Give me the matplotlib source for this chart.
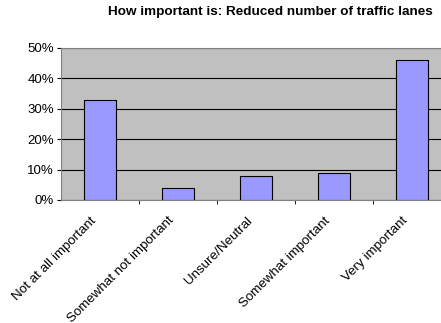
import matplotlib
matplotlib.use('Agg')
from matplotlib import pyplot as plt
from matplotlib.ticker import PercentFormatter, FixedLocator
from matplotlib.transforms import ScaledTranslation

# --- DATA ---
categories = ['Not at all important', 'Somewhat not important', 'Unsure/Neutral',
              'Somewhat important', 'Very important']
shares = [0.33, 0.04, 0.08, 0.09, 0.46]
y_ticks = [0, 0.1, 0.2, 0.3, 0.4, 0.5]

plt.rcParams['font.family'] = ['Liberation Sans', 'DejaVu Sans']

fig = plt.figure(figsize=(4.41, 3.23), dpi=100)
# plot area runs past the right edge of the picture, as in the original
ax = fig.add_axes([61 / 441, 1 - 200 / 323, 390 / 441, 152 / 323])

x = list(range(len(categories)))
ax.set_facecolor('#C0C0C0')
ax.bar(x, shares, width=0.41, color='#9999FF', edgecolor='black', linewidth=0.8, zorder=3)

ax.set_xlim(-0.5, len(categories) - 0.5)
ax.set_ylim(0, 0.5)
ax.set_yticks(y_ticks)
ax.yaxis.set_major_formatter(PercentFormatter(1.0, decimals=0))
ax.grid(axis='y', color='black', linewidth=0.8, zorder=1)

# category labels at centres, tick marks at boundaries
ax.set_xticks(x)
ax.set_xticklabels(categories, rotation=45, ha='right', rotation_mode='anchor', fontsize=9.6)
ax.tick_params(axis='x', which='major', length=0, pad=4)
ax.xaxis.set_minor_locator(FixedLocator([i + 0.5 for i in x[:-1]]))
ax.tick_params(axis='x', which='minor', length=3, direction='out', color='black')
ax.tick_params(axis='y', labelsize=9.5, length=3, direction='out', color='black', pad=2)

# nudge labels down-left along their slant
shift = ScaledTranslation(-0.10, -0.09, fig.dpi_scale_trans)
for lbl in ax.get_xticklabels():
    lbl.set_transform(lbl.get_transform() + shift)

for side in ['top', 'right', 'left', 'bottom']:
    ax.spines[side].set_color('#808080')

fig.text(270 / 441, 1 - 12 / 323, 'How important is: Reduced number of traffic lanes',
         ha='center', va='center', fontsize=9.7, fontweight='bold')

fig.savefig('out.png', dpi=100)
